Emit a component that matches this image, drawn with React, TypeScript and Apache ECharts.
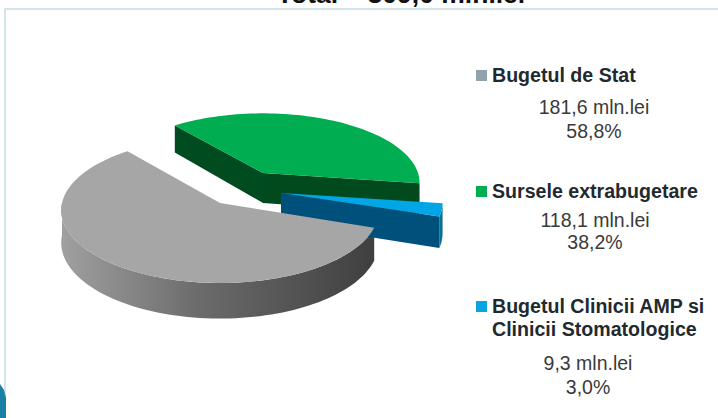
import React, { useEffect, useRef } from "react";
import * as echarts from "echarts";

const categories = ["Bugetul de Stat", "Sursele extrabugetare", "Bugetul Clinicii AMP si\nClinicii Stomatologice"];
const amounts = [181.6, 118.1, 9.3];
const amountLabels = ["181,6 mln.lei", "118,1 mln.lei", "9,3 mln.lei"];
const percentLabels = ["58,8%", "38,2%", "3,0%"];
const titleText = "Total – 309,0 mln.lei";

const FONT = '"Liberation Sans", Arial, sans-serif';
const RXS = [158, 155, 160];
const RYS = [72, 68, 68];
const KS = [0.1, 0.14, 0.14];
const DEPTHS = [32, 30, 30];
const START_DEG = 8.5; // blue slice starts here, going clockwise on screen
const apexes = [[220, 203], [263, 173], [281, 193]];
const topColors = ["#a6a6a6", "#00ad50", "#00a6e6"];
const legendColors = ["#8fa3ad", "#00ad50", "#0aa5e0"];

const total = amounts.reduce((a, b) => a + b, 0);
const sweeps = amounts.map((v) => (v / total) * 360);
// angular ranges on screen: blue, then grey, then green closes the circle
const ranges = (() => {
  const blue = [START_DEG, START_DEG + sweeps[2]];
  const grey = [blue[1], blue[1] + sweeps[0]];
  const green = [grey[1], grey[1] + sweeps[1]];
  return [grey, green, blue];
})();

const rad = (d: number) => (d * Math.PI) / 180;
function rim(idx: number, deg: number, drop = 0) {
  const apex = apexes[idx];
  const s = Math.sin(rad(deg)), c = Math.cos(rad(deg));
  const f = 1 - KS[idx] * s;
  return [apex[0] + (RXS[idx] * c) / f, apex[1] + (RYS[idx] * s) / f + (drop ? drop / f : 0)];
}
function arc(idx: number, from: number, to: number, drop = 0) {
  const pts: number[][] = [];
  const n = Math.max(2, Math.ceil(Math.abs(to - from) / 2));
  for (let i = 0; i <= n; i++) pts.push(rim(idx, from + ((to - from) * i) / n, drop));
  return pts;
}
const poly = (points: number[][], fill: any, z2 = 0) => ({
  type: "polygon", z2, shape: { points }, style: { fill },
});

function sliceShapes(idx: number) {
  const apex = apexes[idx];
  const depth = DEPTHS[idx];
  const apexLow = [apex[0], apex[1] + depth];
  const [a, b] = ranges[idx];
  const top = poly([apex, ...arc(idx, a, b)], topColors[idx], 2);
  const kids: any[] = [];
  if (idx === 0) {
    const wall = [...arc(idx, a, 180), ...arc(idx, 180, a, depth)];
    kids.push(poly(wall, new echarts.graphic.LinearGradient(0, 0, 1, 0, [
      { offset: 0, color: "#a0a0a0" }, { offset: 0.45, color: "#6a6a6a" }, { offset: 1, color: "#3f3f3f" },
    ])));
  }
  if (idx === 1) {
    kids.push(poly([rim(idx, a), apex, apexLow, rim(idx, a, depth)], "#004b1f"));
    kids.push(poly([apex, rim(idx, b), rim(idx, b, depth), apexLow], "#004a1d"));
  }
  if (idx === 2) {
    kids.push(poly([...arc(idx, a, b), ...arc(idx, b, a, depth)], "#0a6f9e", 1));
    kids.push(poly([apex, rim(idx, b), rim(idx, b, depth), apexLow], "#00507c", 1));
  }
  kids.push(top);
  return { type: "group", children: kids };
}

const order = [1, 2, 0];

export default function App() {
  const ref = useRef<HTMLDivElement>(null);
  useEffect(() => {
    const chart = echarts.init(ref.current!, undefined, { renderer: "svg" });
    const text = (x: number, y: number, s: string, bold: boolean, align = "center") => ({
      type: "text", x, y,
      style: {
        text: s, fill: bold ? "#1f2a30" : "#3a3a3a", align, verticalAlign: "middle",
        font: `${bold ? "bold " : ""}${bold ? 19.6 : 19.5}px ${FONT}`, lineHeight: 23,
      },
    });
    const legendY = [75, 191, 306];
    const valueX = [594, 595, 588];
    const valueY = [[107, 131], [220, 242], [363, 387]];
    const headY = [75, 191, 317];
    const graphics: any[] = [
      { type: "rect", z: -2, shape: { x: 5, y: 9, width: 720, height: 420 },
        style: { fill: "#fcfefe", stroke: "#d4e4ea", lineWidth: 2 } },
      { type: "rect", z: -2, shape: { x: 8, y: 12, width: 720, height: 420 },
        style: { fill: "#ffffff" } },
      { type: "polygon", z: -1, shape: { points: [[0, 384], [4, 390], [6, 398], [6, 418], [0, 418]] },
        style: { fill: "#1a7fa3" } },
      { type: "text", x: 401, y: -6, style: { text: titleText, align: "center", verticalAlign: "middle",
        fill: "#111", font: `bold 26.5px ${FONT}` } },
    ];
    categories.forEach((c, i) => {
      graphics.push({ type: "rect", shape: { x: 476, y: legendY[i] - 5, width: 11, height: 11 },
        style: { fill: legendColors[i] } });
      graphics.push(text(492, headY[i], c, true, "left"));
      graphics.push(text(valueX[i], valueY[i][0], amountLabels[i], false));
      graphics.push(text(valueX[i], valueY[i][1], percentLabels[i], false));
    });
    chart.setOption({
      animation: false,
      backgroundColor: "#ffffff",
      graphic: graphics,
      series: order.map((idx) => ({
        type: "custom",
        name: categories[idx].replace("\n", " "),
        coordinateSystem: "none",
        data: [amounts[idx]],
        silent: true,
        renderItem: () => sliceShapes(idx),
      })),
    });
    return () => chart.dispose();
  }, []);
  return <div ref={ref} style={{ position: "fixed", left: 0, top: 0, width: 718, height: 418 }} />;
}
